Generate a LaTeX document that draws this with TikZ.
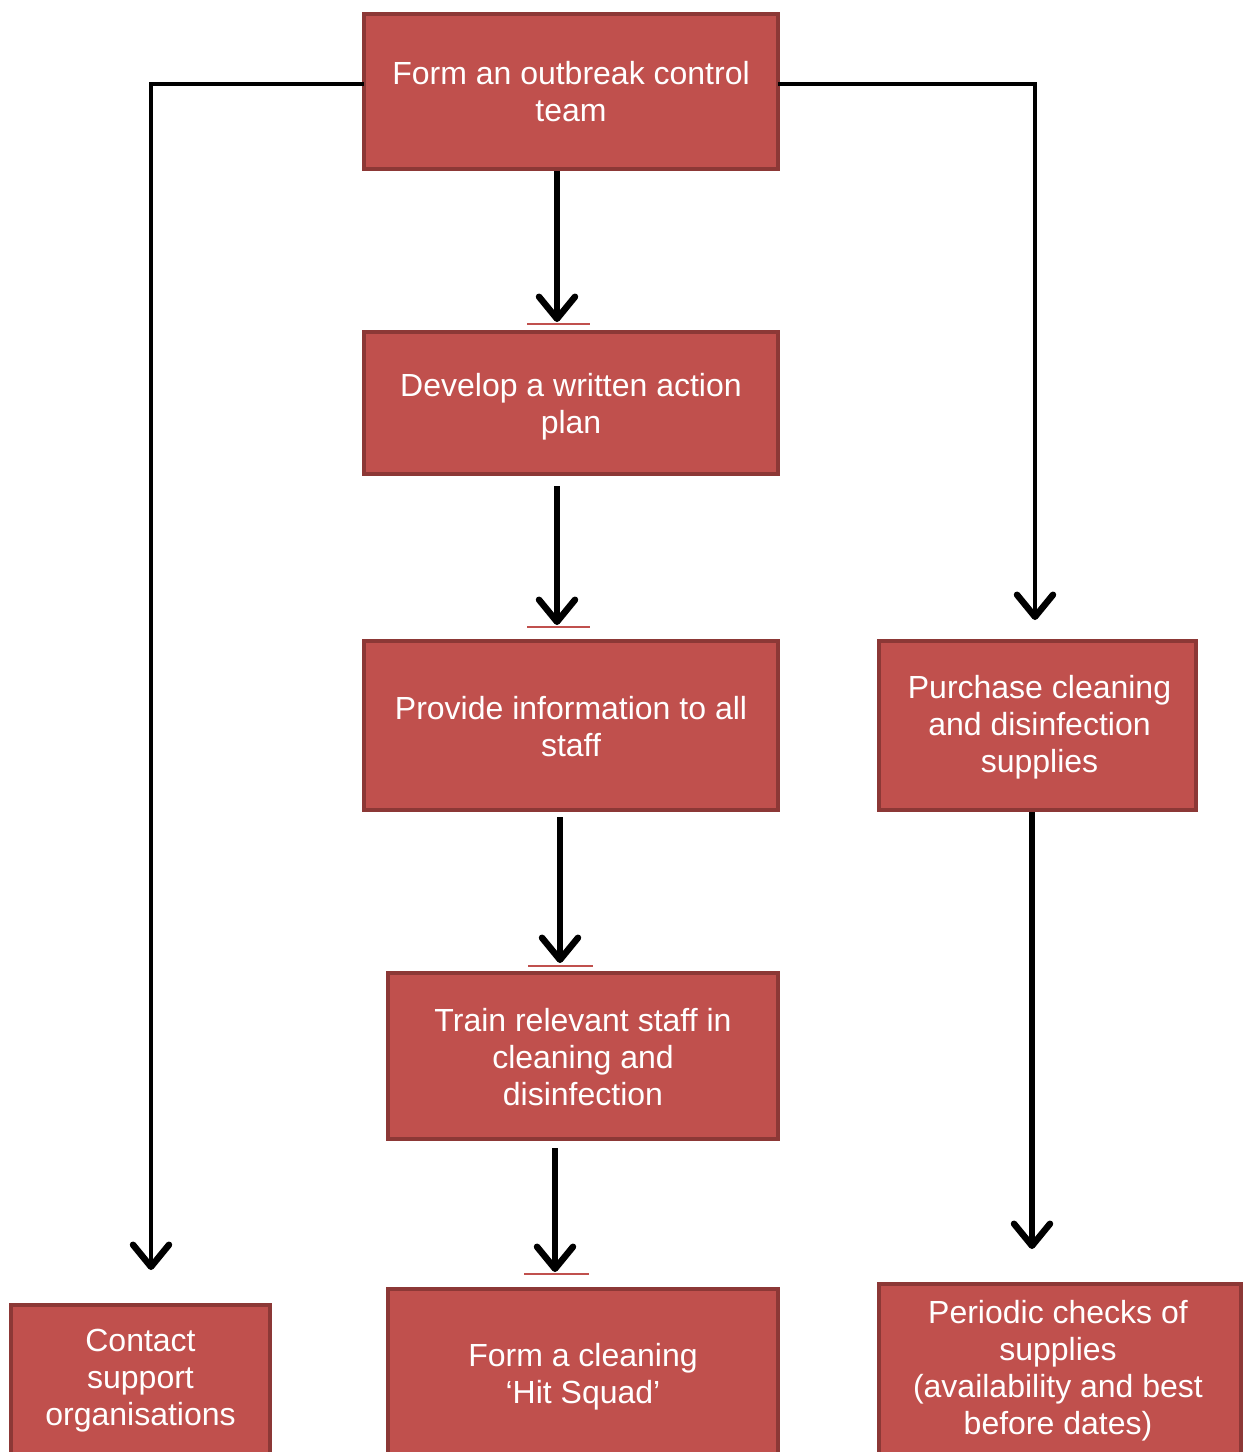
\documentclass[tikz,border=0pt]{standalone}
\usepackage{fontspec}
\setmainfont{Liberation Sans}
\usetikzlibrary{arrows.meta}
\definecolor{boxfill}{RGB}{192,80,77}
\definecolor{boxline}{RGB}{140,56,54}
\definecolor{uline}{RGB}{192,80,77}
\tikzset{
  box/.style={draw=boxline, fill=boxfill, line width=4pt, inner sep=0pt},
  txt/.style={inner sep=0pt, text=white, align=center, font=\fontsize{32}{37}\selectfont},
  conn/.style={line width=5.5pt, draw=black, -{Straight Barb[length=22pt,width=36pt,line width=6.5pt,round]}},
  ulinestyle/.style={draw=uline, line width=2pt}
}
\begin{document}
\begin{tikzpicture}[x=1pt,y=-1pt]
\useasboundingbox (0,0) rectangle (1249,1452);
\fill[white] (0,0) rectangle (1249,1452);

% boxes
\node[box, minimum width=414, minimum height=155] (b1) at (571,91.5) {};
\node[box, minimum width=414, minimum height=142] (b2) at (571,403) {};
\node[box, minimum width=414, minimum height=169] (b3) at (571,725.5) {};
\node[box, minimum width=390, minimum height=166] (b4) at (583,1056) {};
\node[box, minimum width=390, minimum height=168] (b5) at (583,1373) {};
\node[box, minimum width=259, minimum height=170, anchor=north] (b6) at (140.5,1303) {};
\node[box, minimum width=317, minimum height=169] (b7) at (1037.5,725.5) {};
\node[box, minimum width=362, minimum height=180, anchor=north] (b8) at (1060,1282) {};

% texts
\node[txt] (b1t) at (571,91.5) {Form an outbreak control\\team};
\node[txt] (b2t) at (571,407) {Develop a written action\\plan};
\node[txt] (b3t) at (571,727) {Provide information to all\\staff};
\node[txt] (b4t) at (583,1057) {Train relevant staff in\\cleaning and\\disinfection};
\node[txt] (b5t) at (583,1377) {Form a cleaning\\‘Hit Squad’};
\node[txt] (b6t) at (140.5,1381) {Contact\\support\\organisations};
\node[txt] (b7t) at (1039.5,727.5) {Purchase cleaning\\and disinfection\\supplies};
\node[txt] (b8t) at (1058,1371) {Periodic checks of\\supplies\\(availability and best\\before dates)};

% tips of side connectors
\coordinate (t6) at ([xshift=10.5pt,yshift=33pt]b6.north);
\coordinate (t7) at ([xshift=-2.5pt,yshift=19pt]b7.north);
\coordinate (t8) at ([xshift=-28pt,yshift=33pt]b8.north);

% main column arrows
\draw[conn] ([xshift=-14pt]b1.south) -- ([xshift=-14pt,yshift=8pt]b2.north);
\draw[conn] ([xshift=-14pt,yshift=-10pt]b2.south) -- ([xshift=-14pt,yshift=14pt]b3.north);
\draw[conn] ([xshift=-11pt,yshift=-5pt]b3.south) -- ([xshift=-23pt,yshift=8pt]b4.north);
\draw[conn] ([xshift=-28pt,yshift=-7pt]b4.south) -- ([xshift=-28pt,yshift=15pt]b5.north);

% side connectors
\draw[conn, line width=4.5pt] ([xshift=2pt,yshift=7.5pt]b1.west) -| (t6);
\draw[conn, line width=4.5pt] ([xshift=-2pt,yshift=7.5pt]b1.east) -| (t7);
\draw[conn] ([xshift=-5.5pt]b7.south) -- (t8);

% thin red lines under arrow tips
\draw[ulinestyle] ([xshift=-44pt,yshift=6pt]b2.north) -- ++(63,0);
\draw[ulinestyle] ([xshift=-44pt,yshift=12pt]b3.north) -- ++(63,0);
\draw[ulinestyle] ([xshift=-55pt,yshift=5pt]b4.north) -- ++(65,0);
\draw[ulinestyle] ([xshift=-59pt,yshift=13pt]b5.north) -- ++(65,0);
\end{tikzpicture}
\end{document}
